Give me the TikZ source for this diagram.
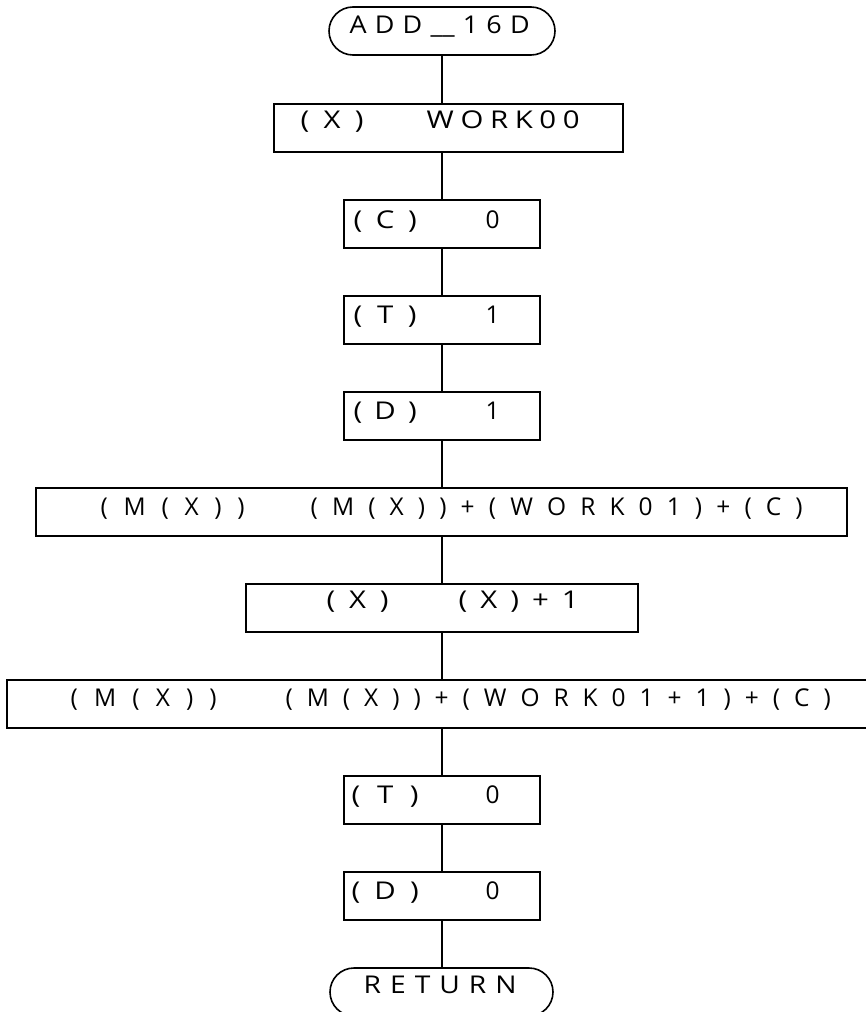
\documentclass[tikz,border=0pt]{standalone}
\usepackage{fontspec}
\setmainfont{Open Sans}
\newfontfamily\osw[FakeStretch=1.2]{Open Sans}
\newfontfamily\ost[FakeStretch=1.1]{Open Sans}
\newfontfamily\osr[FakeStretch=1.15]{Open Sans}
\newfontfamily\osm{Open Sans}
\newcommand\nfont{\osw\fontsize{24.5}{28}\selectfont}
\newcommand\tfont{\ost\fontsize{24.5}{28}\selectfont}
\newcommand\rfont{\osr\fontsize{24.5}{28}\selectfont}
\newcommand\cfont{\osm\fontsize{24.5}{28}\selectfont}
\newcommand\sbx[2]{{\spaceskip=0pt plus 1fil\relax\makebox[#1pt][s]{#2}}}
\begin{document}
\begin{tikzpicture}[x=1pt,y=-1pt,
  box/.style={draw, line width=1.6pt, minimum height=48pt, inner sep=0pt},
  term/.style={box, rounded corners=24pt},
  txt/.style={anchor=base west, inner sep=0pt, font=\nfont},
  ctxt/.style={anchor=base west, inner sep=0pt, font=\cfont},
  link/.style={line width=1.6pt}]
\useasboundingbox (0,0) rectangle (866,1012);
\clip (0,0) rectangle (866,1012);
\coordinate (spine) at (442,0);
% shapes
\node[term, minimum width=226pt] (start) at (442,31) {};
\node[box, minimum width=349pt] (b1) at (448.5,128) {};
\node[box, minimum width=196pt] (b2) at (442,224) {};
\node[box, minimum width=196pt] (b3) at (442,320) {};
\node[box, minimum width=196pt] (b4) at (442,416) {};
\node[box, minimum width=811pt] (b5) at (441.5,512) {};
\node[box, minimum width=392pt] (b6) at (442,608) {};
\node[box, minimum width=870pt] (b7) at (442,704) {};
\node[box, minimum width=196pt] (b8) at (442,800) {};
\node[box, minimum width=196pt] (b9) at (442,896) {};
\node[term, minimum width=223pt] (stop) at (441.5,992) {};
% connectors
\foreach \a/\b in {start/b1,b1/b2,b2/b3,b3/b4,b4/b5,b5/b6,b6/b7,b7/b8,b8/b9,b9/stop}
  \draw[link] (\a.south -| spine) -- (\b.north -| spine);
% texts
\node[txt, font=\tfont] (t0) at (349.5,33) {\sbx{180}{A D D \_\_ 1 6 D}};
\node[txt] (t1a) at (300.5,128) {\sbx{63}{( X )}};
\node[txt] (t1b) at (426.5,128) {\sbx{153}{W O R K 0 0}};
\node[txt] (t2a) at (353.5,228) {\sbx{63}{( C )}};
\node[ctxt] (t2b) at (485.5,228) {0};
\node[txt] (t3a) at (353.5,323) {\sbx{63}{( T )}};
\node[ctxt] (t3b) at (485.5,323) {1};
\node[txt] (t4a) at (353.5,419) {\sbx{63}{( D )}};
\node[ctxt] (t4b) at (485.5,419) {1};
\node[ctxt] (t5a) at (100.5,515) {\sbx{144}{( M ( X ) )}};
\node[ctxt] (t5b) at (310.5,515) {\sbx{492}{( M ( X ) ) + ( W O R K 0 1 ) + ( C )}};
\node[txt] (t6a) at (326.5,608) {\sbx{62}{( X )}};
\node[txt] (t6b) at (458.5,608) {\sbx{120}{( X ) + 1}};
\node[ctxt] (t7a) at (70.5,706) {\sbx{146}{( M ( X ) )}};
\node[ctxt] (t7b) at (285.5,706) {\sbx{545}{( M ( X ) ) + ( W O R K 0 1 + 1 ) + ( C )}};
\node[txt] (t8a) at (351.5,803) {\sbx{67}{( T )}};
\node[ctxt] (t8b) at (485.5,803) {0};
\node[txt] (t9a) at (351.5,899) {\sbx{67}{( D )}};
\node[ctxt] (t9b) at (485.5,899) {0};
\node[txt, font=\rfont] (t10) at (363.5,993) {\sbx{153}{R E T U R N}};
\end{tikzpicture}
\end{document}
